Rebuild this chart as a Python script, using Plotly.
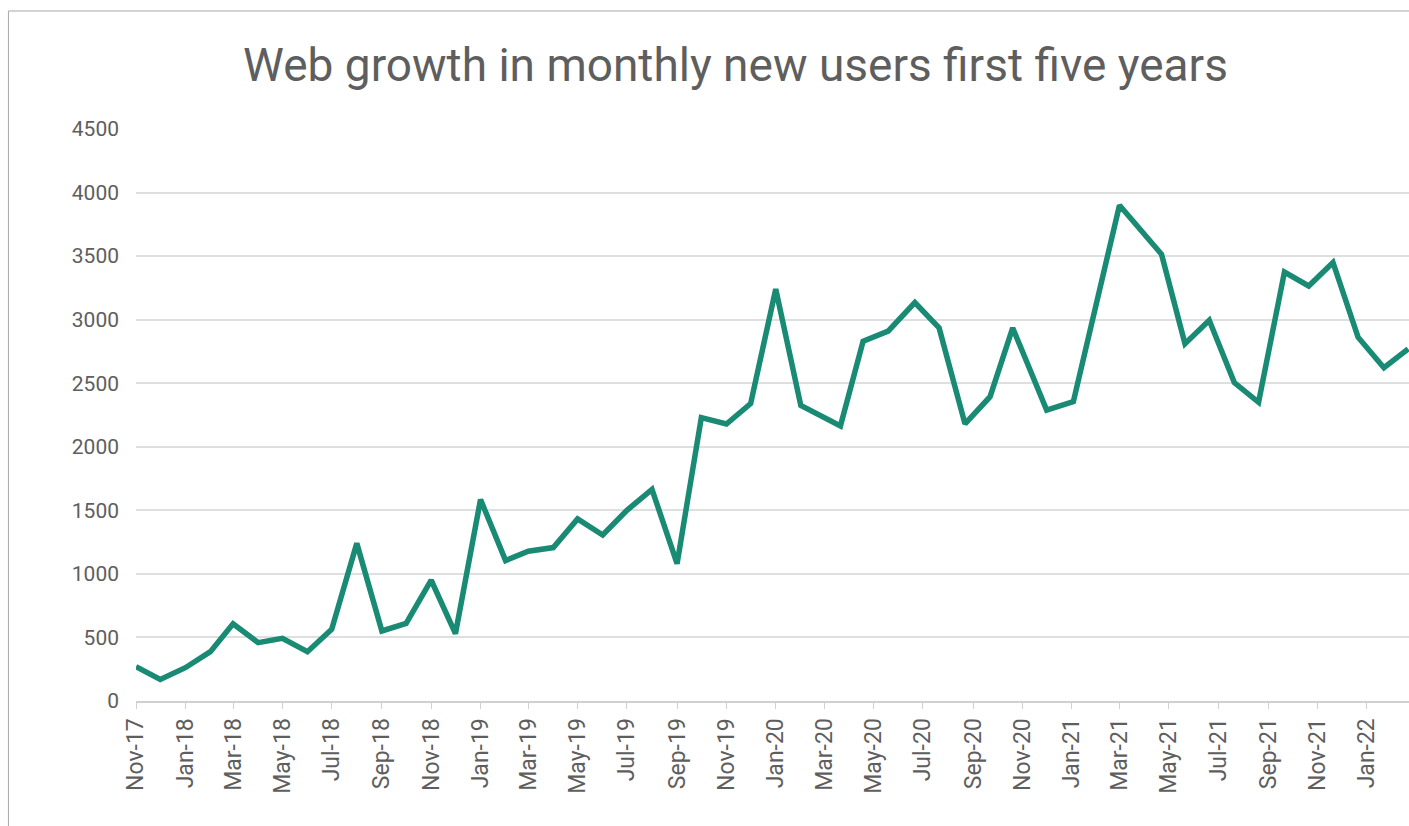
import plotly.graph_objects as go

# Monthly new web users, by reporting date
dates = [
    "2017-11-01", "2017-12-01", "2018-01-01", "2018-02-01", "2018-03-01",
    "2018-04-01", "2018-05-01", "2018-06-01", "2018-07-01", "2018-08-01",
    "2018-09-01", "2018-10-01", "2018-11-01", "2018-12-01", "2019-01-01",
    "2019-02-01", "2019-03-01", "2019-04-01", "2019-05-01", "2019-06-01",
    "2019-07-01", "2019-08-01", "2019-09-01", "2019-10-01", "2019-11-01",
    "2019-12-01", "2020-01-01", "2020-02-01", "2020-03-21", "2020-04-18",
    "2020-05-19", "2020-06-21", "2020-07-21", "2020-08-22", "2020-09-22",
    "2020-10-20", "2020-12-01", "2021-01-03", "2021-03-01", "2021-04-22",
    "2021-05-21", "2021-06-20", "2021-07-21", "2021-08-20", "2021-09-21",
    "2021-10-21", "2021-11-20", "2021-12-21", "2022-01-22", "2022-02-21",
]
new_users = [
    270, 170, 262, 388, 608,
    459, 493, 388, 564, 1240,
    551, 611, 950, 530, 1585,
    1105, 1178, 1207, 1432, 1306,
    1500, 1665, 1080, 2230, 2179,
    2340, 3240, 2325, 2163, 2830,
    2910, 3135, 2935, 2180, 2394,
    2935, 2289, 2355, 3900, 3515,
    2810, 2995, 2505, 2350, 3375,
    3265, 3450, 2862, 2622, 2770,
]

# Axis labels and ticks
title_text = "Web growth in monthly new users first five years"
y_ticks = [0, 500, 1000, 1500, 2000, 2500, 3000, 3500, 4000, 4500]
x_tick_dates = [
    "2017-11-01", "2018-01-01", "2018-03-01", "2018-05-01", "2018-07-01",
    "2018-09-01", "2018-11-01", "2019-01-01", "2019-03-01", "2019-05-01",
    "2019-07-01", "2019-09-01", "2019-11-01", "2020-01-01", "2020-03-01",
    "2020-05-01", "2020-07-01", "2020-09-01", "2020-11-01", "2021-01-01",
    "2021-03-01", "2021-05-01", "2021-07-01", "2021-09-01", "2021-11-01",
    "2022-01-01",
]
x_tick_labels = [
    "Nov-17", "Jan-18", "Mar-18", "May-18", "Jul-18", "Sep-18", "Nov-18",
    "Jan-19", "Mar-19", "May-19", "Jul-19", "Sep-19", "Nov-19", "Jan-20",
    "Mar-20", "May-20", "Jul-20", "Sep-20", "Nov-20", "Jan-21", "Mar-21",
    "May-21", "Jul-21", "Sep-21", "Nov-21", "Jan-22",
]

LINE = "#198a73"
TEXT = "#5e5e5e"
GRID = "#dfdfdf"
FONT = "Roboto, Noto Sans, sans-serif"

fig = go.Figure(
    go.Scatter(
        x=dates,
        y=new_users,
        mode="lines",
        line=dict(color=LINE, width=5.5, shape="linear"),
        hoverinfo="x+y",
    )
)

fig.update_layout(
    width=1409,
    height=826,
    margin=dict(l=136, r=0, t=129, b=125),
    paper_bgcolor="white",
    plot_bgcolor="white",
    showlegend=False,
    title=dict(
        text=title_text,
        font=dict(family=FONT, size=46, color=TEXT),
        xref="container", x=0.522, xanchor="center",
        yref="container", y=0.921, yanchor="middle",
    ),
    font=dict(family=FONT, color=TEXT),
)

fig.update_xaxes(
    type="date",
    range=["2017-11-01", "2022-02-22"],
    tickmode="array",
    tickvals=x_tick_dates,
    ticktext=x_tick_labels,
    tickangle=-90,
    tickfont=dict(family=FONT, size=23, color=TEXT),
    ticks="outside",
    ticklen=6,
    tickcolor="#d0d0d0",
    showgrid=False,
    showline=True,
    linecolor="#d0d0d0",
    linewidth=2,
    zeroline=False,
    automargin=False,
)

fig.update_yaxes(
    range=[0, 4500],
    tickmode="array",
    tickvals=y_ticks,
    tickfont=dict(family=FONT, size=21, color=TEXT),
    showgrid=True,
    gridcolor=GRID,
    gridwidth=2,
    zeroline=False,
    showline=False,
    ticks="",
    ticklabelstandoff=16,
    automargin=False,
)

# Outer chart frame (top and left edges of the chart box)
frame = dict(color="#a8a8a8", width=1)
fig.add_shape(type="line", xref="paper", yref="paper",
              x0=-0.1002, x1=1.05, y0=1.2063, y1=1.2063, line=frame)
fig.add_shape(type="line", xref="paper", yref="paper",
              x0=-0.1002, x1=-0.1002, y0=1.2063, y1=-0.3, line=frame)

fig.write_html("out.html")
